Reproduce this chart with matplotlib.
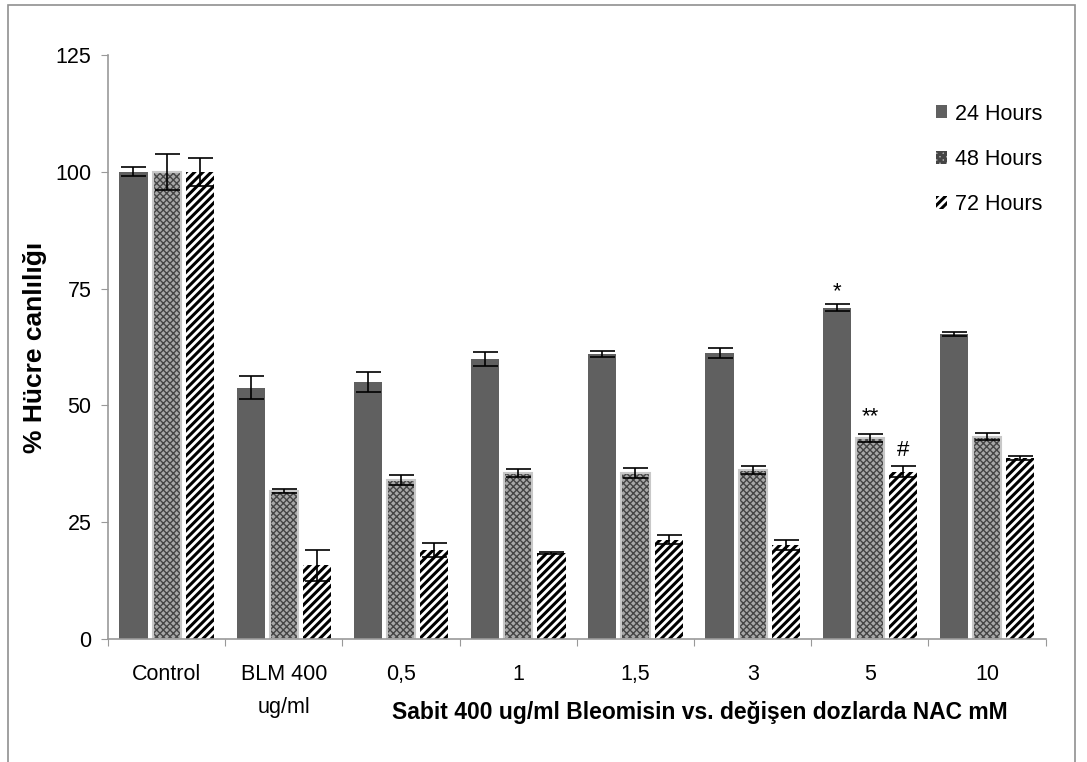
import numpy as np
import matplotlib.pyplot as plt
from matplotlib.patches import Rectangle

plt.rcParams['font.family'] = ['Liberation Sans', 'DejaVu Sans']
plt.rcParams['hatch.linewidth'] = 2.2

categories = ['Control', 'BLM 400\nug/ml', '0,5', '1', '1,5', '3', '5', '10']
h24 = [100, 53.8, 55, 60, 61, 61.2, 70.9, 65.3]
h24_err = [1, 2.5, 2.2, 1.5, 0.6, 1.0, 0.7, 0.5]
h48 = [100, 31.7, 34, 35.5, 35.5, 36.2, 43, 43.3]
h48_err = [3.8, 0.5, 1.0, 0.8, 1.0, 0.8, 0.8, 0.7]
h72 = [100, 15.8, 19, 18.4, 21.3, 20.1, 35.8, 38.8]
h72_err = [3.0, 3.3, 1.5, 0.3, 1.0, 1.0, 1.2, 0.4]

fig = plt.figure(figsize=(10.87, 7.62), dpi=100)
ax = fig.add_axes([0.0994, 0.1614, 0.8626, 0.7664])

x = np.arange(len(categories))
w = 0.24
off = 0.283
ekw = dict(ecolor='black', capsize=9, elinewidth=1.2, capthick=1.2)

ax.bar(x - off, h24, w, yerr=h24_err, color='#606060', label='24 Hours', error_kw=ekw)
b48 = ax.bar(x, h48, w, yerr=h48_err, color='#a8a8a8', edgecolor='#454545', hatch='xxxxx',
             linewidth=0, label='48 Hours', error_kw=ekw)
for p in b48:
    try:
        p.set_hatch_linewidth(1.0)
    except AttributeError:
        pass
ax.bar(x + off, h72, w, yerr=h72_err, color='white', edgecolor='black', hatch='////',
       linewidth=0, label='72 Hours', error_kw=ekw)
# light gray border for the 48h bars
ax.bar(x, h48, w, fill=False, edgecolor='#c8c8c8', linewidth=1.5)

ax.set_xlim(-0.5, len(categories) - 0.5)
ax.set_ylim(0, 125)
ax.set_yticks([0, 25, 50, 75, 100, 125])
ax.set_xticks(np.arange(len(categories) + 1) - 0.5, minor=False)
ax.set_xticklabels([])
ax.set_xticks(x, minor=True)
ax.set_xticklabels(categories, minor=True, fontsize=15.5, linespacing=1.75)
ax.tick_params(axis='x', which='minor', length=0, pad=18)
ax.tick_params(axis='x', which='major', length=5, color='#999999', direction='out')
ax.tick_params(axis='y', length=5, color='#999999', labelsize=15.5, pad=7)
for s in ['top', 'right']:
    ax.spines[s].set_visible(False)
for s in ['left', 'bottom']:
    ax.spines[s].set_color('#999999')
    ax.spines[s].set_linewidth(1.2)

ax.set_ylabel('% Hücre canlılığı', fontsize=19, fontweight='bold', labelpad=6)
ax.text(0.631, -0.125, 'Sabit 400 ug/ml Bleomisin vs. değişen dozlarda NAC mM',
        transform=ax.transAxes, ha='center', va='center', fontsize=16.5, fontweight='bold')

# significance marks
ax.text(6 - off, h24[6] + h24_err[6] + 0.6, '*', ha='center', va='bottom', fontsize=16)
ax.text(6, h48[6] + h48_err[6] + 1.5, '**', ha='center', va='bottom', fontsize=16)
ax.text(6 + off, h72[6] + h72_err[6] + 1.2, '#', ha='center', va='bottom', fontsize=16)

leg = ax.legend(loc='upper right', bbox_to_anchor=(1.017, 0.95), frameon=False,
                fontsize=15.5, labelspacing=1.12, handlelength=0.55, handleheight=0.55,
                handletextpad=0.35)

fig.add_artist(Rectangle((0.007, -0.01), 0.982, 1.003, transform=fig.transFigure,
                         fill=False, edgecolor='#909090', linewidth=1.2))

fig.savefig('out.png', dpi=100)
